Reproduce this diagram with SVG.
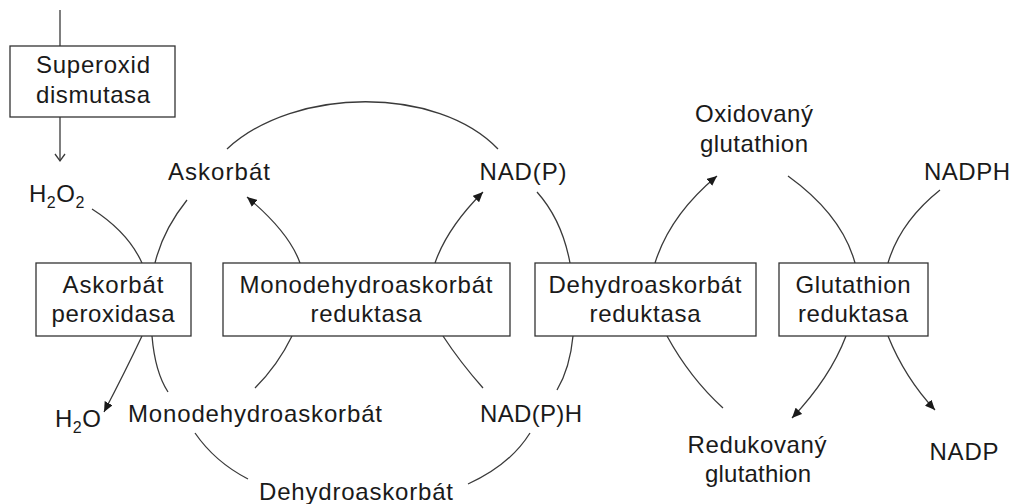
<svg xmlns="http://www.w3.org/2000/svg" width="1018" height="504" viewBox="0 0 1018 504">
<style>
.t{font-family:"Liberation Sans",Arial,sans-serif;font-size:24px;fill:#1a1a1a;text-anchor:middle}
.l{font-family:"Liberation Sans",Arial,sans-serif;font-size:24px;fill:#1a1a1a;letter-spacing:0.5px}
.sub{font-size:16px}
.box{fill:#fff;stroke:#333;stroke-width:1.3}
.c{fill:none;stroke:#3a3a3a;stroke-width:1.3}
.a{marker-end:url(#ah)}
</style>
<defs>
<marker id="ah" markerUnits="userSpaceOnUse" markerWidth="11" markerHeight="9" refX="10" refY="4.5" orient="auto">
<path d="M0,0 L10,4.5 L0,9 z" fill="#1a1a1a"/>
</marker>
</defs>
<rect width="1018" height="504" fill="#fff"/>
<g id="connectors">
<path class="c" d="M60,10 L60,46"/>
<path class="c" d="M60,117 L60,161"/>
<path class="c" d="M55,154 L60,161 L65,154"/>
<path class="c" d="M227,149 C295,86 438,86 498,149"/>
<path class="c" d="M92,209 Q128,232 142,263"/>
<path class="c" d="M187,200 Q163,230 155,263"/>
<path class="c a" d="M142,336 Q125,372 104,412"/>
<path class="c" d="M152,336 Q155,372 168,392"/>
<path class="c" d="M195,433 Q215,462 248,479"/>
<path class="c" d="M468,484 Q510,465 530,433"/>
<path class="c a" d="M300,263 Q289,232 247,197"/>
<path class="c a" d="M435,263 Q447,228 483,192"/>
<path class="c" d="M292,336 Q278,365 255,388"/>
<path class="c" d="M443,336 Q460,362 483,388"/>
<path class="c" d="M537,192 Q562,220 570,263"/>
<path class="c" d="M573,336 Q570,368 557,390"/>
<path class="c a" d="M655,263 Q670,215 717,176"/>
<path class="c" d="M667,336 Q690,378 723,408"/>
<path class="c" d="M788,176 Q842,215 855,263"/>
<path class="c" d="M940,190 Q900,222 888,263"/>
<path class="c a" d="M846,336 Q830,378 792,418"/>
<path class="c a" d="M888,336 Q905,378 935,410"/>
</g>
<g id="sod">
<rect class="box" x="10" y="46" width="165" height="71"/>
<text class="t" x="93" y="73" textLength="114">Superoxid</text>
<text class="t" x="93" y="103" textLength="114">dismutasa</text>
</g>
<g id="h2o2"><text class="l" x="29" y="202">H<tspan class="sub" dy="6">2</tspan><tspan dy="-6">O</tspan><tspan class="sub" dy="6">2</tspan></text></g>
<g id="askorbat"><text class="t" x="219" y="180" textLength="102">Askorbát</text></g>
<g id="nadp"><text class="t" x="523" y="180" textLength="87">NAD(P)</text></g>
<g id="oxglut">
<text class="t" x="754" y="122" textLength="118">Oxidovaný</text>
<text class="t" x="754" y="152" textLength="108">glutathion</text>
</g>
<g id="nadph"><text class="t" x="967" y="180" textLength="86">NADPH</text></g>
<g id="apx">
<rect class="box" x="36" y="263" width="155" height="73"/>
<text class="t" x="113" y="293" textLength="101">Askorbát</text>
<text class="t" x="113" y="322" textLength="123">peroxidasa</text>
</g>
<g id="mdhar">
<rect class="box" x="223" y="263" width="287" height="73"/>
<text class="t" x="366" y="293" textLength="253">Monodehydroaskorbát</text>
<text class="t" x="366" y="322" textLength="111">reduktasa</text>
</g>
<g id="dhar">
<rect class="box" x="535" y="263" width="221" height="73"/>
<text class="t" x="645" y="293" textLength="193">Dehydroaskorbát</text>
<text class="t" x="645" y="322" textLength="111">reduktasa</text>
</g>
<g id="gr">
<rect class="box" x="779" y="263" width="149" height="73"/>
<text class="t" x="853" y="293" textLength="115">Glutathion</text>
<text class="t" x="853" y="322" textLength="110">reduktasa</text>
</g>
<g id="h2o"><text class="l" x="55" y="427">H<tspan class="sub" dy="6">2</tspan><tspan dy="-6">O</tspan></text></g>
<g id="mda"><text class="t" x="255" y="422" textLength="254">Monodehydroaskorbát</text></g>
<g id="nadph2"><text class="t" x="531" y="422" textLength="102">NAD(P)H</text></g>
<g id="dha"><text class="t" x="356" y="500" textLength="194">Dehydroaskorbát</text></g>
<g id="redglut">
<text class="t" x="757" y="453" textLength="139">Redukovaný</text>
<text class="t" x="758" y="482" textLength="106">glutathion</text>
</g>
<g id="nadp2"><text class="t" x="964" y="460" textLength="69">NADP</text></g>
</svg>
